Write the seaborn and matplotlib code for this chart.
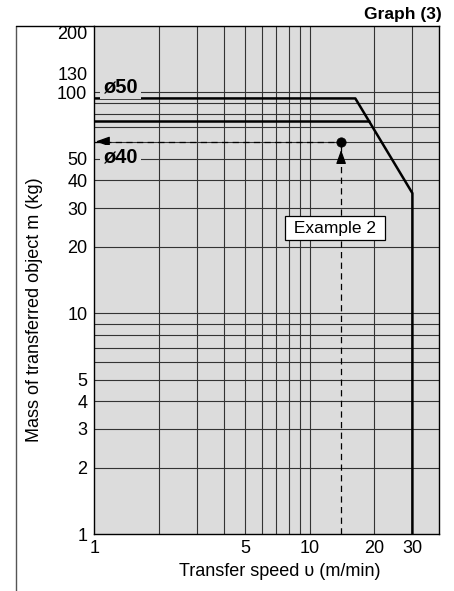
#!/usr/bin/env python3
'''
Graph (3): allowable mass of transferred object vs transfer speed
'''

import matplotlib
matplotlib.use('Agg')
import matplotlib.pyplot as plt
from matplotlib.lines import Line2D
from matplotlib.ticker import FixedLocator, NullFormatter
import pandas as pd
import seaborn as sns

# limit curves (speed m/min, mass kg)
SPEED_50 = [1, 16.3, 30, 30]
MASS_50 = [94, 94, 35, 1]
SPEED_40 = [1, 18.9]
MASS_40 = [74, 74]

# example 2 operating point
EX_SPEED = 14
EX_MASS = 60

X_TICKS = [1, 5, 10, 20, 30]
X_LABELS = ['1', '5', '10', '20', '30']
Y_TICKS = [1, 2, 3, 4, 5, 10, 20, 30, 40, 50, 100, 130, 200]
Y_LABELS = ['1', '2', '3', '4', '5', '10', '20', '30', '40', '50', '100', '130', '200']
X_GRID = [2, 3, 4, 5, 6, 7, 8, 9, 10, 20, 30]
Y_GRID = [2, 3, 4, 5, 6, 7, 8, 9, 10, 20, 30, 40, 50, 60, 70, 80, 90, 100]


def main():
    sns.set_theme(style='white', rc={'text.color': 'black', 'axes.labelcolor': 'black',
                                     'xtick.color': 'black', 'ytick.color': 'black'})
    plt.rcParams['font.family'] = ['Liberation Sans', 'DejaVu Sans']

    W, H = 454, 591
    fig = plt.figure(figsize=(W / 100, H / 100), dpi=100)
    left, right, top, bottom = 94.3, 439.3, 26, 534.3
    ax = fig.add_axes([left / W, 1 - bottom / H, (right - left) / W, (bottom - top) / H])
    ax.set_facecolor('#dcdcdc')

    ax.set_xscale('log')
    ax.set_yscale('log')
    ax.set_xlim(1, 40)
    ax.set_ylim(1, 200)

    # grid only through minor ticks so label-only ticks (130, 200) get no line
    ax.xaxis.remove_overlapping_locs = False
    ax.yaxis.remove_overlapping_locs = False
    ax.xaxis.set_minor_locator(FixedLocator(X_GRID))
    ax.yaxis.set_minor_locator(FixedLocator(Y_GRID))
    ax.xaxis.set_minor_formatter(NullFormatter())
    ax.yaxis.set_minor_formatter(NullFormatter())
    ax.grid(False, which='major')
    ax.grid(True, which='minor', color='#333333', lw=0.8)
    ax.set_axisbelow(True)

    ax.set_xticks(X_TICKS, X_LABELS)
    ax.set_yticks(Y_TICKS, Y_LABELS)
    ax.tick_params(which='both', length=0, labelsize=13, colors='black')
    ax.tick_params(axis='y', pad=5)
    ax.tick_params(axis='x', pad=4)
    for lbl in ax.get_yticklabels():
        if lbl.get_text() in ('130', '200'):
            lbl.set_va('top')

    for s in ax.spines.values():
        s.set_color('black')
        s.set_linewidth(1.0)

    df50 = pd.DataFrame({'speed': SPEED_50, 'mass': MASS_50})
    df40 = pd.DataFrame({'speed': SPEED_40, 'mass': MASS_40})
    sns.lineplot(data=df50, x='speed', y='mass', ax=ax, sort=False, estimator=None,
                 color='black', lw=1.8, zorder=4)
    sns.lineplot(data=df40, x='speed', y='mass', ax=ax, sort=False, estimator=None,
                 color='black', lw=1.8, zorder=4)

    # example 2 guide lines
    dash = (0, (5, 3.5))
    ax.plot([1, EX_SPEED], [EX_MASS, EX_MASS], color='black', lw=0.9, ls=dash, zorder=3)
    ax.plot([EX_SPEED, EX_SPEED], [1, EX_MASS], color='black', lw=0.9, ls=dash, zorder=3)
    sns.scatterplot(x=[EX_SPEED], y=[EX_MASS], ax=ax, color='black', s=45,
                    edgecolor='black', zorder=5)
    arrow = dict(arrowstyle='-|>,head_length=0.7,head_width=0.25', color='black',
                 lw=0.9, shrinkA=0, shrinkB=0)
    ax.annotate('', xy=(1.015, EX_MASS), xytext=(1.12, EX_MASS), arrowprops=arrow, zorder=5)
    ax.annotate('', xy=(EX_SPEED, 55), xytext=(EX_SPEED, 48), arrowprops=arrow, zorder=5)

    ax.text(13.1, 24.3, ' Example 2 ', fontsize=12.5, ha='center', va='center', zorder=6,
            bbox=dict(boxstyle='square,pad=0.25', fc='white', ec='black', lw=0.9))

    box = dict(boxstyle='square,pad=0.15', fc='#dcdcdc', ec='none')
    ax.text(1.1, 106, 'ø50', fontsize=14.5, weight='bold', ha='left', va='center',
            zorder=6, bbox=box)
    ax.text(1.1, 51, 'ø40', fontsize=14.5, weight='bold', ha='left', va='center',
            zorder=6, bbox=box)

    ax.set_xlabel('Transfer speed υ (m/min)', fontsize=13)
    ax.set_ylabel('Mass of transferred object m (kg)', fontsize=13)
    ax.xaxis.set_label_coords((280 - left) / (right - left), -(571 - bottom) / (bottom - top))
    ax.yaxis.set_label_coords(-(left - 35) / (right - left), (bottom - 310) / (bottom - top))
    ax.xaxis.label.set_va('center')
    ax.yaxis.label.set_va('center')

    # outer frame of the catalogue box
    fx = 16 / W
    fy = 1 - top / H
    fig.add_artist(Line2D([fx, fx], [0, fy], color='#555555', lw=1.0))
    fig.add_artist(Line2D([fx, left / W], [fy, fy], color='black', lw=1.0))

    fig.text(442 / W, 1 - 14 / H, 'Graph (3)', fontsize=12.5, weight='bold',
             ha='right', va='center')

    fig.savefig('out.png', dpi=100)


if __name__ == '__main__':
    main()
